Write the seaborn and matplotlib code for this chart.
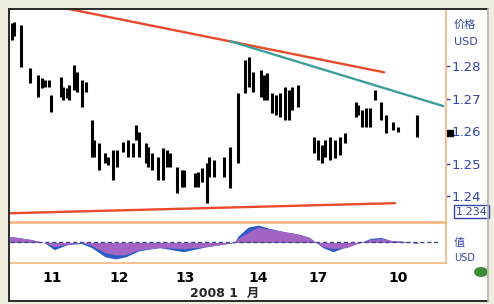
import numpy as np
import pandas as pd
import matplotlib
matplotlib.use("Agg")
import matplotlib.pyplot as plt
import seaborn as sns
from matplotlib.patches import Rectangle, Ellipse
from matplotlib.lines import Line2D

# price bars (trading-day index, high, low)
bar_day = [0.6, 1.2, 3.2, 5.9, 8.2, 9.4, 10.3, 11.5, 12.1, 15.0, 15.6, 16.8, 17.4, 18.8, 19.7, 21.2, 22.4,
           24.1, 24.7, 26.2, 27.9, 28.8, 30.3, 31.5, 33.2, 34.7, 36.2, 37.1, 37.9, 40.0, 40.6, 41.8, 43.5,
           45.0, 46.2, 47.1, 49.1, 50.6, 51.2, 54.4, 55.3, 56.5, 57.9, 58.5, 60.0, 62.9, 64.7, 67.0, 69.1,
           70.3, 71.5, 73.8, 74.7, 75.6, 77.1, 78.2, 79.4, 80.9, 82.1, 82.9, 84.7, 89.4, 90.6, 91.8, 92.6,
           94.1, 95.6, 97.1, 98.5, 101.8, 102.4, 103.5, 104.7, 105.9, 107.4, 109.1, 110.6, 112.6, 114.1, 119.7]
bar_high = [1.2932, 1.2935, 1.2926, 1.2794, 1.2772, 1.2763, 1.2757, 1.2757, 1.2711, 1.2766, 1.2735, 1.2732,
            1.2742, 1.2803, 1.2782, 1.2757, 1.2751,
            1.2634, 1.2572, 1.2563, 1.2532, 1.2520, 1.2541, 1.2541, 1.2566, 1.2572, 1.2563, 1.2618, 1.2597,
            1.2563, 1.2551, 1.2532, 1.2520, 1.2547, 1.2541, 1.2532, 1.2489, 1.2480, 1.2480, 1.2470, 1.2474,
            1.2486, 1.2501, 1.2520, 1.2511, 1.2520, 1.2551, 1.2717, 1.2818,
            1.2828, 1.2782, 1.2788, 1.2772, 1.2778, 1.2717, 1.2711, 1.2717, 1.2735, 1.2726, 1.2735, 1.2742,
            1.2581, 1.2572, 1.2557, 1.2572, 1.2581, 1.2572, 1.2581, 1.2594, 1.2689, 1.2680, 1.2665, 1.2671,
            1.2671, 1.2726, 1.2689, 1.2649, 1.2628, 1.2612, 1.2649]
bar_low = [1.2880, 1.2892, 1.2797, 1.2748, 1.2705, 1.2732, 1.2735, 1.2735, 1.2658, 1.2705, 1.2695, 1.2702,
           1.2695, 1.2726, 1.2720, 1.2674, 1.2720,
           1.2520, 1.2520, 1.2480, 1.2501, 1.2495, 1.2449, 1.2489, 1.2535, 1.2520, 1.2520, 1.2572, 1.2520,
           1.2501, 1.2489, 1.2480, 1.2449, 1.2449, 1.2489, 1.2489, 1.2409, 1.2428, 1.2428, 1.2428, 1.2428,
           1.2443, 1.2378, 1.2458, 1.2458, 1.2458, 1.2425, 1.2501, 1.2717,
           1.2735, 1.2720, 1.2705, 1.2695, 1.2695, 1.2655, 1.2649, 1.2643, 1.2634, 1.2634, 1.2665, 1.2674,
           1.2532, 1.2511, 1.2501, 1.2520, 1.2511, 1.2517, 1.2526, 1.2563, 1.2643, 1.2649, 1.2612, 1.2612,
           1.2612, 1.2695, 1.2634, 1.2594, 1.2603, 1.2597, 1.2581]
last_close = 1.2594

# trend lines (day, price)
upper_red_day = [14, 110]
upper_red_price = [1.2983, 1.2781]
teal_day = [64.7, 127.4]
teal_price = [1.2877, 1.2677]
lower_red_day = [0, 113.2]
lower_red_price = [1.2347, 1.2378]

# MACD panel
macd_day = [0, 6, 10, 13, 17, 21, 24, 28, 31, 34, 38, 44, 51, 58, 64, 66, 67, 70, 73, 76, 80, 85, 88, 90,
            92, 95, 99, 103, 106, 109, 112, 116, 120]
macd_val = [6, 3, 0, -7, -2, -1, -5, -14, -16, -14, -8, -5, -9, -4, -1, 0, 6, 15, 17, 14, 11, 8, 5, 0,
            -5, -9, -4, 0, 4, 5, 2, 1, -1]
signal_val = [6, 3, 0, -4, -2, 0, -3, -10, -12, -12, -7, -5, -6, -4, -1, 0, 4, 10, 15, 13, 11, 8, 5, 0,
              -4, -6, -5, 0, 3, 4, 2, 1, -1]

price_ticks = [1.28, 1.27, 1.26, 1.25, 1.24]
price_labels = ["1.28", "1.27", "1.26", "1.25", "1.24"]
low_box_label = "1.234"
low_box_price = 1.2352
date_ticks = [12.4, 32.1, 51.5, 72.9, 90.6, 114.1]
date_labels = ["11", "12", "13", "14", "17", "10"]

sns.set_style("white")
plt.rcParams['font.family'] = ['DejaVu Sans', 'Noto Sans CJK SC']

BEIGE = "#efede0"
ORANGE = "#f3b57e"
RED = "#ea4a2c"
TEAL = "#3e9e9a"
BLUE_TXT = "#3445a8"
PURPLE = "#a464c4"
BLUE = "#2a5cc8"

W, H = 494, 304
fig = plt.figure(figsize=(W / 100, H / 100), dpi=100, facecolor=BEIGE)

def fx(px):
    return px / W

def fy(py):
    return 1 - py / H

# white sheet and frame
fig.patches.append(Rectangle((fx(9), fy(301)), fx(479), 292 / H, transform=fig.transFigure,
                             facecolor="white", edgecolor="none", zorder=-2))
for xs, ys, c in [([9, 9], [9, 301], "#1a1a1a"), ([9, 488], [9, 9], "#1a1a1a"),
                  ([9, 488], [301, 301], "#1a1a1a"), ([488, 488], [9, 301], "#b8b8b0")]:
    fig.lines.append(Line2D([fx(v) for v in xs], [fy(v) for v in ys], transform=fig.transFigure,
                            color=c, lw=1.3))

ax = fig.add_axes([fx(10), fy(222), fx(436), 213 / H])
axm = fig.add_axes([fx(10), fy(263), fx(436), 40 / H], sharex=ax)
for a in (ax, axm):
    a.set_facecolor("none")
    for s in a.spines.values():
        s.set_color(ORANGE)
        s.set_linewidth(1.2)
ax.spines["left"].set_visible(False)
ax.spines["top"].set_visible(False)
axm.spines["left"].set_visible(False)

# price bars
ax.vlines(bar_day, bar_low, bar_high, color="black", lw=2.2)

lines = pd.concat([
    pd.DataFrame({"day": upper_red_day, "price": upper_red_price, "line": "up"}),
    pd.DataFrame({"day": lower_red_day, "price": lower_red_price, "line": "low"}),
    pd.DataFrame({"day": teal_day, "price": teal_price, "line": "teal"}),
])
sns.lineplot(data=lines, x="day", y="price", hue="line", palette={"up": RED, "low": RED, "teal": TEAL},
             lw=1.7, legend=False, ax=ax, estimator=None)

ax.set_xlim(0, 128.2)
ax.set_ylim(1.2320, 1.2976)
ax.set_xlabel("")
ax.set_ylabel("")
ax.yaxis.tick_right()
ax.set_yticks(price_ticks)
ax.set_yticklabels(price_labels)
ax.tick_params(axis="y", right=True, length=3, width=1, color=BLUE_TXT, pad=1,
               labelcolor=BLUE_TXT, labelsize=9.5)
ax.tick_params(axis="x", bottom=False, labelbottom=False)

ax.plot([129.3], [last_close], marker="s", ms=4, color="black", clip_on=False)
ax.text(1.018, 0.925, "价格", transform=ax.transAxes, color=BLUE_TXT, fontsize=8,
        family=["Noto Sans CJK SC"], va="center", ha="left")
ax.text(1.018, 0.845, "USD", transform=ax.transAxes, color=BLUE_TXT, fontsize=8, va="center", ha="left")
ax.text(1.022, low_box_price, low_box_label, transform=ax.get_yaxis_transform(), color=BLUE_TXT,
        fontsize=8, va="center", ha="left",
        bbox=dict(boxstyle="square,pad=0.15", fc="white", ec=BLUE_TXT, lw=1))

# MACD
axm.fill_between(macd_day, 0, macd_val, color=BLUE, lw=0)
axm.fill_between(macd_day, 0, signal_val, color=PURPLE, lw=0)
axm.plot([0, 126], [0, 0], ls=(0, (3, 2)), color="#3a4a8a", lw=1)
axm.set_ylim(-20, 19)
axm.set_yticks([])
axm.set_xticks(date_ticks)
axm.set_xticklabels(date_labels)
axm.tick_params(axis="x", bottom=False, pad=2, labelsize=10, labelcolor="black")
for t in axm.get_xticklabels():
    t.set_fontweight("bold")
axm.text(1.018, 0.5, "值", transform=axm.transAxes, color=BLUE_TXT, fontsize=8,
         family=["Noto Sans CJK SC"], va="center", ha="left")
axm.text(1.018, 0.13, "USD", transform=axm.transAxes, color=BLUE_TXT, fontsize=7, va="center", ha="left")

fig.text(fx(225), fy(293), "2008 1  月", ha="center", va="center", fontsize=9, fontweight="bold",
         family=["DejaVu Sans", "Noto Sans CJK SC"])
fig.patches.append(Ellipse((fx(481), fy(272)), fx(14), 10 / H, transform=fig.transFigure,
                           facecolor="#3c8c34", edgecolor="none"))

fig.savefig("out.png", dpi=100, facecolor=BEIGE)
